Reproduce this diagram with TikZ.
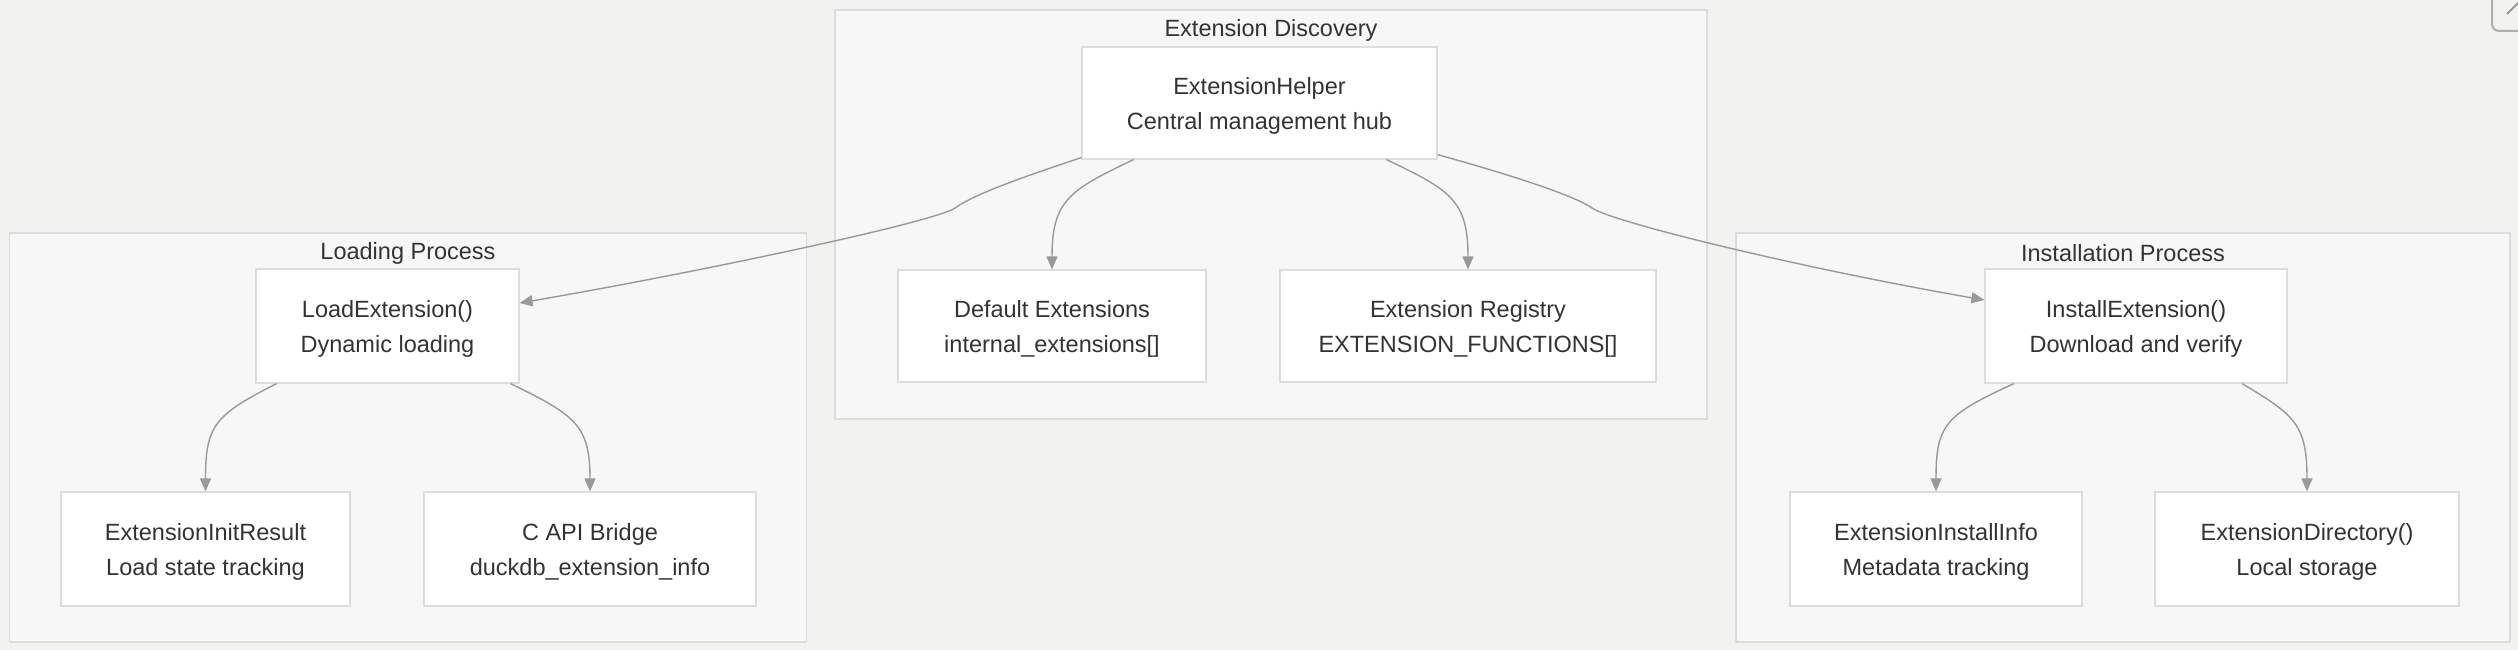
\documentclass[tikz,border=0pt]{standalone}
\usepackage{fontspec}
\setmainfont{Liberation Sans}
\usetikzlibrary{arrows.meta}
\definecolor{bgcol}{HTML}{F2F2F0}
\definecolor{groupfill}{HTML}{F7F7F7}
\definecolor{groupline}{HTML}{DCDCDC}
\definecolor{boxline}{HTML}{DDDDDD}
\definecolor{edgecol}{HTML}{999999}
\definecolor{txtcol}{HTML}{333333}
\begin{document}
\begin{tikzpicture}[x=1pt, y=-1pt,
    group/.style={draw=groupline, fill=groupfill, line width=1.2pt, inner sep=0pt},
    grouptitle/.style={text=txtcol, font=\fontsize{23.5}{28}\selectfont, inner sep=0pt},
    box/.style={draw=boxline, fill=white, line width=1.2pt, align=center, text=txtcol,
        font=\fontsize{23.5}{35}\selectfont, inner sep=0pt, text depth=0pt},
    edge/.style={draw=edgecol, line width=1.4pt, -{Triangle[length=13pt,width=11pt]}}]
    \fill[bgcol] (0,0) rectangle (2518,650);
    \useasboundingbox (0,0) rectangle (2518,650);
    \draw[edgecol!80, line width=2pt, rounded corners=7pt] (2492,-10) -- (2492,31) -- (2530,31);
    \draw[edgecol, line width=2pt] (2507,14) -- (2522,-1);

    \node[group, minimum width=872pt, minimum height=409pt] (discovery) at (1271,214.5) {};
    \node[group, minimum width=797pt, minimum height=409pt] (loading) at (408,437.5) {};
    \node[group, minimum width=774pt, minimum height=409pt] (installing) at (2123,437.5) {};
    \node[grouptitle] (discoverytitle) at (1271,30) {Extension Discovery};
    \node[grouptitle] (loadingtitle) at (408,253) {Loading Process};
    \node[grouptitle] (installingtitle) at (2123,253) {Installation Process};

    \node[box, minimum width=355pt, minimum height=112pt] (helper) at (1259.5,103) {ExtensionHelper\\Central management hub};
    \node[box, minimum width=308pt, minimum height=112pt] (defaults) at (1052,326) {Default Extensions\\internal\_extensions[]};
    \node[box, minimum width=376pt, minimum height=112pt] (registry) at (1468,326) {Extension Registry\\EXTENSION\_FUNCTIONS[]};

    \node[box, minimum width=263pt, minimum height=114pt] (load) at (387.5,326) {LoadExtension()\\Dynamic loading};
    \node[box, minimum width=289pt, minimum height=114pt] (initres) at (205.5,549) {ExtensionInitResult\\Load state tracking};
    \node[box, minimum width=332pt, minimum height=114pt] (capi) at (590,549) {C API Bridge\\duckdb\_extension\_info};

    \node[box, minimum width=302pt, minimum height=114pt] (install) at (2136,326) {InstallExtension()\\Download and verify};
    \node[box, minimum width=292pt, minimum height=114pt] (info) at (1936,549) {ExtensionInstallInfo\\Metadata tracking};
    \node[box, minimum width=304pt, minimum height=114pt] (directory) at (2307,549) {ExtensionDirectory()\\Local storage};

    \draw[edge] ([yshift=2pt]helper.south west) .. controls (1020,178) and (975,194) .. (955,208)
        .. controls (935,222) and (700,272) .. ([yshift=23pt]load.east);
    \draw[edge] ([xshift=-126pt]helper.south) .. controls (1070,190) and (1052,200) .. (defaults.north);
    \draw[edge] ([xshift=127pt]helper.south) .. controls (1450,190) and (1468,200) .. (registry.north);
    \draw[edge] ([yshift=5pt]helper.south east) .. controls (1500,172) and (1572,194) .. (1592,208)
        .. controls (1612,222) and (1800,268) .. ([yshift=26pt]install.west);
    \draw[edge] ([xshift=-111pt]load.south) .. controls (215,415) and (205.5,425) .. (initres.north);
    \draw[edge] ([xshift=123pt]load.south) .. controls (575,415) and (590,425) .. (capi.north);
    \draw[edge] ([xshift=-122pt]install.south) .. controls (1945,415) and (1936,425) .. (info.north);
    \draw[edge] ([xshift=106pt]install.south) .. controls (2295,415) and (2307,425) .. (directory.north);
\end{tikzpicture}
\end{document}
